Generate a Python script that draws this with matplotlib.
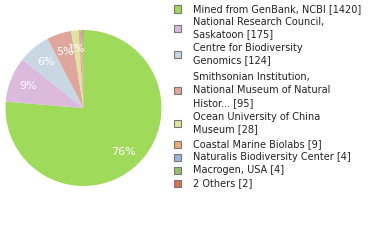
import math
import matplotlib
matplotlib.use("Agg")
import matplotlib.pyplot as plt
from matplotlib.patches import Rectangle

labels = ["Mined from GenBank, NCBI [1420]",
          "National Research Council,\nSaskatoon [175]",
          "Centre for Biodiversity\nGenomics [124]",
          "Smithsonian Institution,\nNational Museum of Natural\nHistor... [95]",
          "Ocean University of China\nMuseum [28]",
          "Coastal Marine Biolabs [9]",
          "Naturalis Biodiversity Center [4]",
          "Macrogen, USA [4]",
          "2 Others [2]"]
values = [1420, 175, 124, 95, 28, 9, 4, 4, 2]
colors = ["#a0da5a", "#dbbade", "#c9d7e3", "#dfa69e", "#dee4a0",
          "#f0aa6e", "#96b9dc", "#96be6e", "#dc6e50"]
legend_y = [9, 28, 54, 90, 123, 144, 157, 170, 183]

W, H = 380, 240
fig = plt.figure(figsize=(3.8, 2.4), dpi=100)
cx, cy, r = 83.5, 108, 78
ax = fig.add_axes([(cx - r) / W, 1 - (cy + r) / H, 2 * r / W, 2 * r / H])

def fmt(p):
    return f"{int(math.floor(p))}%" if p >= 1 else ""

wedges, texts, autotexts = ax.pie(values, colors=colors, startangle=90, counterclock=False,
                                  autopct=fmt, pctdistance=0.76,
                                  wedgeprops=dict(linewidth=0),
                                  textprops=dict(color="white", fontsize=8, family="DejaVu Sans"))
ax.set_aspect("equal")
ax.set_xlim(-1, 1)
ax.set_ylim(-1, 1)
ax.axis("off")

for lab, col, y in zip(labels, colors, legend_y):
    sq = 7
    fig.patches.append(Rectangle((174 / W, 1 - (y + sq / 2) / H), sq / W, sq / H,
                                 transform=fig.transFigure, facecolor=col,
                                 edgecolor="#777777", linewidth=0.8))
    fig.text(193 / W, 1 - y / H, lab, fontsize=7, color="#222222",
             va="center", ha="left", linespacing=1.33, family="DejaVu Sans")

fig.savefig("out.png", dpi=100)
